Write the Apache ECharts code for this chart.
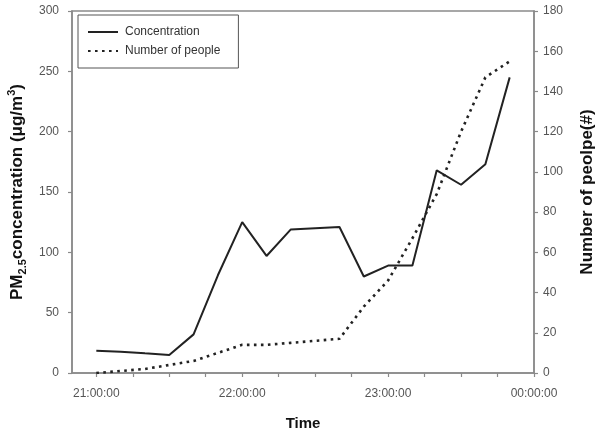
<!DOCTYPE html>
<html>
<head>
<meta charset="utf-8">
<script src="https://cdn.jsdelivr.net/npm/echarts@6/dist/echarts.min.js"></script>
<style>
html,body{margin:0;padding:0;background:#fff;}
#chart{width:598px;height:431px;}
</style>
</head>
<body>
<div id="chart"></div>
<script>
// minutes after 21:00:00
var minutes = [0, 10, 20, 30, 40, 50, 60, 70, 80, 90, 100, 110, 120, 130, 140, 150, 160, 170];
var concentration = [18.5, 17.7, 16.3, 15, 32, 81, 125, 97, 119, 120, 121, 80, 89, 89, 168, 156, 173, 245];
var people = [0, 1, 2, 4, 6, 10, 14, 14, 15, 16, 17, 33, 46, 67, 89, 120, 147, 155];
var xTickValues = [0, 15, 30, 45, 60, 75, 90, 105, 120, 135, 150, 165, 180];
var xLabelValues = [0, 60, 120, 180];
var xLabels = ['21:00:00', '22:00:00', '23:00:00', '00:00:00'];

function pairs(xs, ys) {
  var out = [];
  for (var i = 0; i < xs.length; i++) out.push([xs[i], ys[i]]);
  return out;
}

var axisColor = '#8a8a8a';
var labelColor = '#555';
var font = 'Liberation Sans Narrow, Arial, Liberation Sans, sans-serif';
var boldFont = 'Arial, Liberation Sans, sans-serif';

var chart = echarts.init(document.getElementById('chart'), null, {renderer: 'canvas'});
chart.setOption({
  animation: false,
  backgroundColor: '#fff',
  grid: {left: 72, right: 64, top: 11, bottom: 58, show: true, borderColor: axisColor, borderWidth: 1.5, containLabel: false, outerBoundsMode: 'none'},
  legend: {
    orient: 'vertical',
    left: 78, top: 15,
    padding: [11, 18, 11, 9],
    itemGap: 7,
    itemWidth: 30, itemHeight: 12,
    borderColor: '#555', borderWidth: 1,
    itemStyle: {opacity: 0, borderWidth: 0},
    textStyle: {fontFamily: font, fontSize: 12, color: '#333', padding: [0, 0, 0, 2]},
    data: ['Concentration', 'Number of people']
  },
  xAxis: {
    type: 'value', min: -10, max: 180,
    axisLine: {onZero: false, lineStyle: {color: axisColor, width: 1.5}},
    axisTick: {show: true, customValues: xTickValues, length: 4, lineStyle: {color: axisColor, width: 1.2}},
    axisLabel: {
      customValues: xLabelValues,
      formatter: function (v) { var i = xLabelValues.indexOf(v); return i >= 0 ? xLabels[i] : ''; },
      color: labelColor, fontFamily: font, fontSize: 12, margin: 15
    },
    splitLine: {show: false},
    name: 'Time', nameLocation: 'middle', nameGap: 43,
    nameTextStyle: {fontFamily: boldFont, fontWeight: 'bold', fontSize: 15, color: '#111'}
  },
  yAxis: [{
    type: 'value', min: 0, max: 300, interval: 50, position: 'left',
    axisLine: {show: true, onZero: false, lineStyle: {color: axisColor, width: 1.5}},
    axisTick: {show: true, length: 4, lineStyle: {color: axisColor, width: 1.2}},
    axisLabel: {color: labelColor, fontFamily: font, fontSize: 12, margin: 13},
    splitLine: {show: false},
    name: 'PM{sub|2.5}concentration (μg/m{sup|3})',
    nameLocation: 'middle', nameRotate: 90, nameGap: 44,
    nameTextStyle: {
      fontFamily: boldFont, fontWeight: 'bold', fontSize: 17, color: '#111', lineHeight: 22,
      rich: {
        sub: {fontFamily: boldFont, fontWeight: 'bold', fontSize: 11, color: '#111', verticalAlign: 'bottom', lineHeight: 22, padding: [8, 0, 0, 0]},
        sup: {fontFamily: boldFont, fontWeight: 'bold', fontSize: 11, color: '#111', verticalAlign: 'top', lineHeight: 22, padding: [0, 0, 8, 0]}
      }
    }
  }, {
    type: 'value', min: 0, max: 180, interval: 20, position: 'right',
    axisLine: {show: true, onZero: false, lineStyle: {color: axisColor, width: 1.5}},
    axisTick: {show: true, length: 4, lineStyle: {color: axisColor, width: 1.2}},
    axisLabel: {color: labelColor, fontFamily: font, fontSize: 12, margin: 9},
    splitLine: {show: false},
    name: 'Number of peolpe(#)',
    nameLocation: 'middle', nameRotate: 90, nameGap: 43,
    nameTextStyle: {fontFamily: boldFont, fontWeight: 'bold', fontSize: 17, color: '#111', lineHeight: 20}
  }],
  series: [{
    name: 'Concentration', type: 'line', yAxisIndex: 0,
    data: pairs(minutes, concentration),
    symbol: 'none',
    lineStyle: {color: '#222', width: 2},
    itemStyle: {color: '#222'}
  }, {
    name: 'Number of people', type: 'line', yAxisIndex: 1,
    data: pairs(minutes, people),
    symbol: 'none',
    lineStyle: {color: '#222', width: 2.6, type: [2.6, 4.4], cap: 'butt'},
    itemStyle: {color: '#222'}
  }]
});
</script>
</body>
</html>
